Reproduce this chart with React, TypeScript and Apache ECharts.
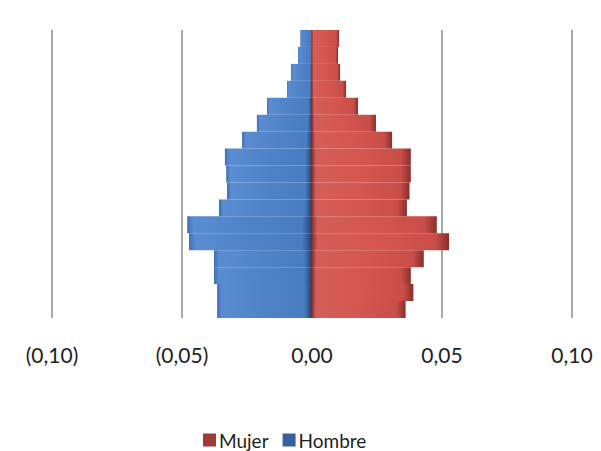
import React, { useEffect, useRef } from "react";
import * as echarts from "echarts";

const ageGroups = [
  "0-4", "5-9", "10-14", "15-19", "20-24", "25-29", "30-34", "35-39", "40-44",
  "45-49", "50-54", "55-59", "60-64", "65-69", "70-74", "75-79", "80+",
];
// shares, youngest first
const mujer = [
  0.036, 0.039, 0.038, 0.043, 0.0527, 0.048, 0.0365, 0.0375, 0.038,
  0.038, 0.0308, 0.0246, 0.0177, 0.0131, 0.0108, 0.010, 0.0104,
];
const hombre = [
  0.0365, 0.0365, 0.0377, 0.0377, 0.0473, 0.048, 0.0358, 0.0327, 0.033,
  0.0335, 0.0269, 0.0212, 0.0173, 0.0096, 0.0081, 0.0054, 0.0045,
];
const xMin = -0.1;
const xMax = 0.1;
const xStep = 0.05;

const fmt = (v: number) => {
  const s = Math.abs(v).toFixed(2).replace(".", ",");
  return v < -1e-9 ? "(" + s + ")" : s;
};

export default function App() {
  const ref = useRef<HTMLDivElement>(null);
  useEffect(() => {
    if (!ref.current) return;
    const chart = echarts.init(ref.current, undefined, { renderer: "svg" });
    const blueGrad = new echarts.graphic.LinearGradient(0, 0, 1, 0, [
      { offset: 0, color: "#3f6fb2" },
      { offset: 0.05, color: "#5a8cd2" },
      { offset: 0.5, color: "#4f82c6" },
      { offset: 0.92, color: "#4a7cc0" },
      { offset: 1, color: "#24426e" },
    ]);
    const redGrad = new echarts.graphic.LinearGradient(0, 0, 1, 0, [
      { offset: 0, color: "#8a2f2c" },
      { offset: 0.04, color: "#d45e58" },
      { offset: 0.5, color: "#d4564f" },
      { offset: 0.9, color: "#c94e49" },
      { offset: 1, color: "#8c2d2a" },
    ]);
    chart.setOption({
      animation: false,
      backgroundColor: "#ffffff",
      grid: { left: 52, right: 29, top: 30, bottom: 133, containLabel: false },
      xAxis: {
        type: "value",
        min: xMin,
        max: xMax,
        interval: xStep,
        axisLine: { show: false },
        axisTick: { show: false },
        splitLine: { show: true, lineStyle: { color: "#8c8c8c", width: 1.5 } },
        axisLabel: {
          formatter: fmt,
          margin: 26,
          color: "#1e1e1e",
          fontSize: 21,
          fontFamily: "Lato",
        },
      },
      yAxis: {
        type: "category",
        data: ageGroups,
        show: false,
      },
      legend: {
        left: 203,
        top: 430,
        padding: 0,
        itemWidth: 13,
        itemHeight: 13,
        itemGap: 14,
        icon: "rect",
        textStyle: {
          fontSize: 19,
          lineHeight: 20,
          fontFamily: "Lato",
          color: "#1e1e1e",
          padding: [0, 0, 0, -2],
        },
        data: [
          { name: "Mujer", itemStyle: { color: "#a23a37" } },
          { name: "Hombre", itemStyle: { color: "#36619c" } },
        ],
      },
      series: [
        {
          name: "Mujer",
          type: "bar",
          barGap: "-100%",
          barCategoryGap: "0%",
          data: mujer,
          itemStyle: { color: redGrad },
        },
        {
          name: "Hombre",
          type: "bar",
          barGap: "-100%",
          barCategoryGap: "0%",
          data: hombre.map((v) => -v),
          itemStyle: { color: blueGrad },
        },
      ],
    });
    return () => chart.dispose();
  }, []);
  return (
    <div
      ref={ref}
      style={{ position: "fixed", left: 0, top: 0, width: 601, height: 451, background: "#fff" }}
    />
  );
}
